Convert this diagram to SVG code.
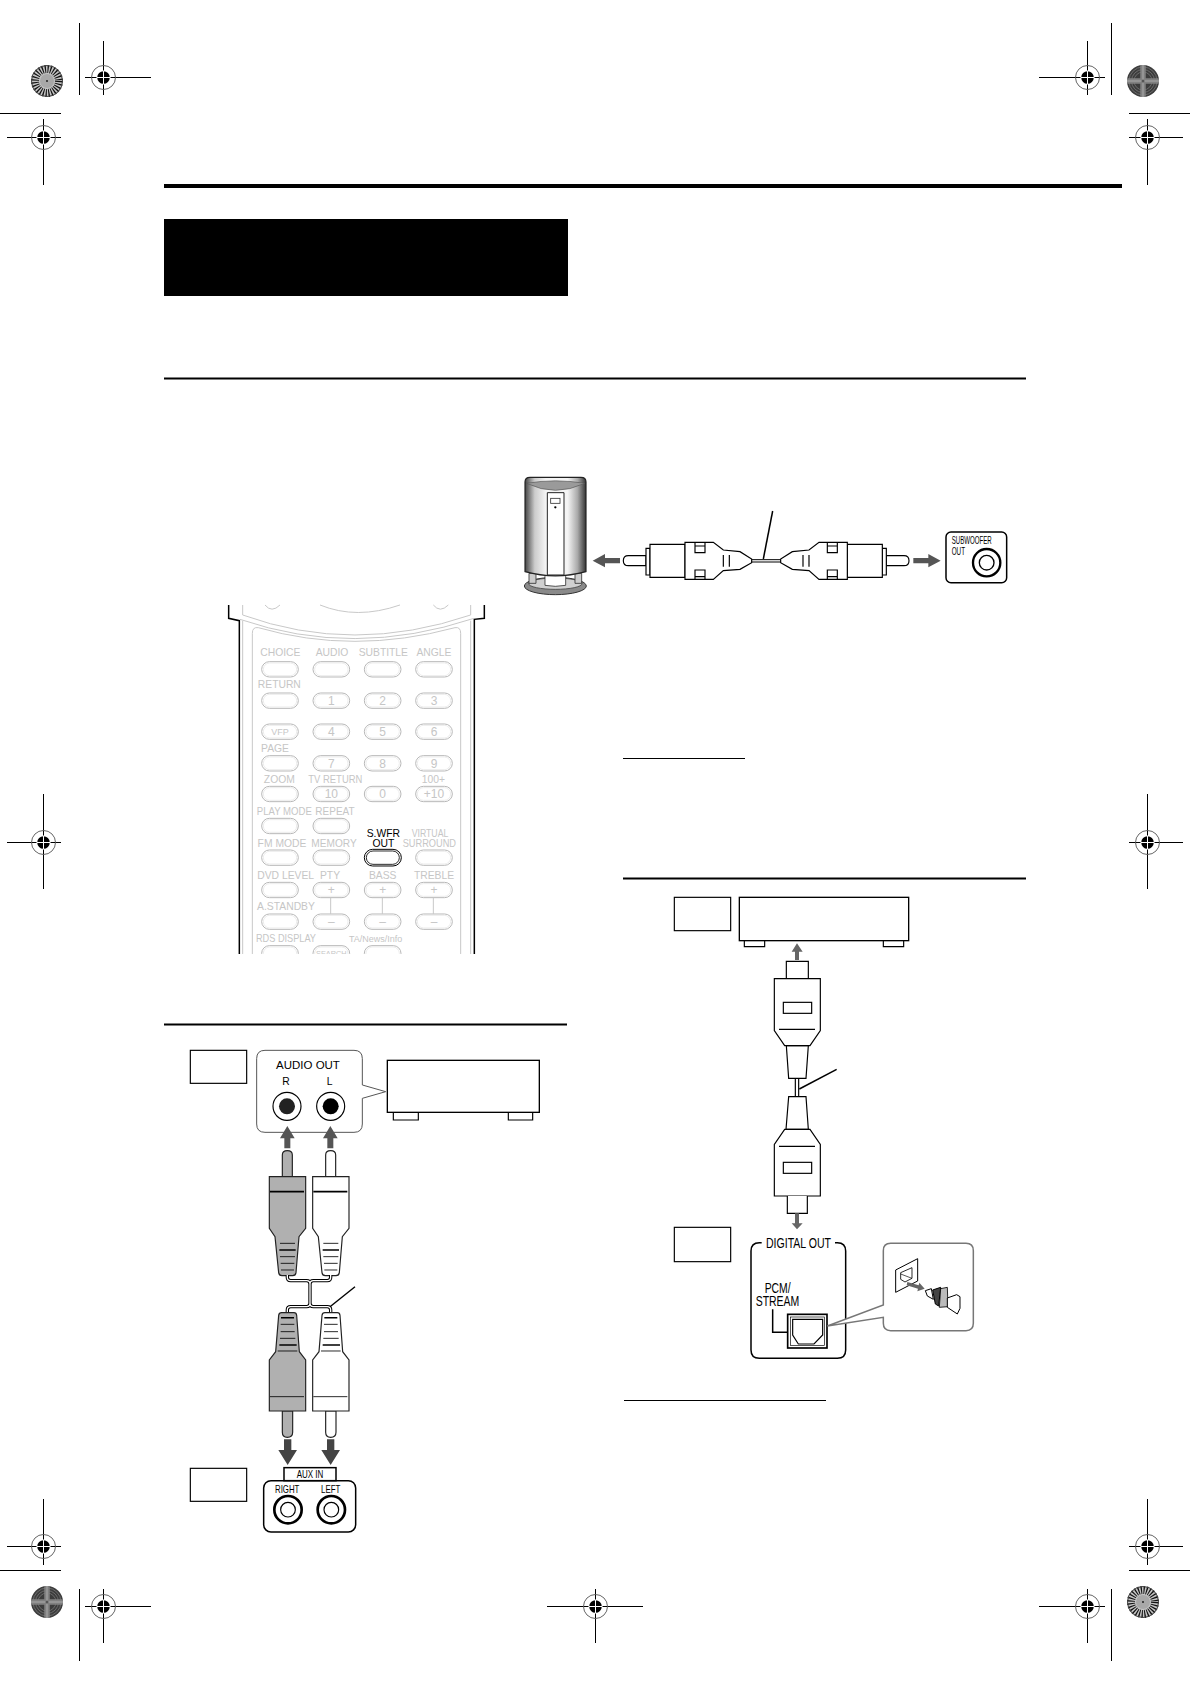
<svg xmlns="http://www.w3.org/2000/svg" width="1190" height="1684" viewBox="0 0 1190 1684">
<style>
text{font-family:"Liberation Sans",Arial,sans-serif}
.reg{stroke:#000;stroke-width:1;fill:none}
.k{fill:none;stroke:#000;stroke-width:3.5}
.kf{fill:#fff;stroke:#000;stroke-width:3.5}
.th{fill:#fff;stroke:#000;stroke-width:4.5}
.ar{fill:#555;stroke:none}
.g{fill:#c6c6c6;font-size:30px;text-anchor:middle}
.n{font-size:36px}
.b{fill:#fff;stroke:#b8b8b8;stroke-width:3}
.bi{fill:none;stroke:#e2e2e2;stroke-width:2}
.gl{fill:none;stroke:#c8c8c8;stroke-width:3}
.t{fill:#000;text-anchor:middle}
.w1{fill:none;stroke:#000;stroke-width:10}
.w2{fill:none;stroke:#fff;stroke-width:4}
</style>
<defs>
<g id="reg">
<circle r="12" fill="none" stroke="#666" stroke-width="1"/>
<circle r="6.3" fill="#000"/>
<path d="M-7 0H7M0-7V7" stroke="#fff" stroke-width="1"/>
</g>
<g id="sunL">
<circle r="16" fill="#c4c4c4"/>
<circle r="12" fill="none" stroke="#111" stroke-width="8" stroke-dasharray="1.2 1.5"/>
<circle r="15.5" fill="none" stroke="#444" stroke-width="1"/>
<circle r="7" fill="#a8a8a8"/>
<circle r="1" fill="#222"/>
</g>
<g id="sunD">
<circle r="16" fill="#3c3c3c"/>
<circle r="14" fill="none" stroke="#777" stroke-width=".8"/>
<circle r="11.500" fill="none" stroke="#777" stroke-width=".8"/>
<circle r="9" fill="none" stroke="#777" stroke-width=".8"/>
<path d="M-16 0H16M0-16V16" stroke="#808080" stroke-width="5.500"/>
<path d="M-16 0H16M0-16V16" stroke="#aaa" stroke-width="1"/>
<circle r="1.500" fill="#555"/>
</g>
<g id="btn">
<rect x="-55" y="-23" width="110" height="46" rx="23" class="b"/>
<rect x="-50" y="-19" width="100" height="38" rx="19" class="bi"/>
</g>
<g id="coax">
<path class="kf" d="M408 287H355Q340 287 340 302Q340 317 355 317H408Z"/>
<path class="kf" d="M408 265H420V345H408Z"/>
<path class="kf" d="M420 253H525V352H420Z"/>
<path class="kf" d="M525 247H610L640 270L690 275L725 297V308L690 328L640 332L610 358H525Z"/>
<path class="k" d="M555 258H585V278H555ZM555 330H585V350H555ZM555 247V258M585 247V258M555 350V358M585 350V358M640 285V320M658 285V320"/>
</g>
<g id="plugU">
<path stroke="#222" stroke-width="3.5" d="M307 410V345Q307 332 322 332Q337 332 337 345V410Z"/>
<path stroke="#222" stroke-width="3.5" d="M268 410H377V565L357 590L348 698Q347 707 338 707H306Q297 707 296 698L285 590L268 565Z"/>
<path d="M270 455H372" stroke="#000" stroke-width="5"/>
<path d="M300 610H345M300 650H345M302 670H343M303 690H342" stroke="#000" stroke-width="2.5"/>
<path d="M298 630H347" stroke="#000" stroke-width="4.5"/>
</g>
<g id="plugD">
<path stroke="#222" stroke-width="3.5" d="M307 393V457Q307 472 322 472Q338 472 338 457V393Z"/>
<path stroke="#222" stroke-width="3.5" d="M305 98H342Q349 98 350 106L358 215L377 240V393H268V240L287 215L296 106Q297 98 305 98Z"/>
<path d="M270 350H372" stroke="#000" stroke-width="2.5"/>
<path d="M302 133H343M302 155H344M300 175H346M293 213H352" stroke="#000" stroke-width="2.5"/>
<path d="M303 113H342M298 195H350" stroke="#000" stroke-width="4.5"/>
</g>
<linearGradient id="spk" x1="0" x2="1" y1="0" y2="0">
<stop offset="0" stop-color="#444"/><stop offset=".16" stop-color="#ccc"/><stop offset=".34" stop-color="#f4f4f4"/><stop offset=".7" stop-color="#f4f4f4"/><stop offset=".86" stop-color="#aaa"/><stop offset="1" stop-color="#333"/>
</linearGradient>
<clipPath id="rc"><rect x="0" y="0" width="840" height="1092"/></clipPath>
</defs>

<g id="printer-marks">
<path class="reg" d="M85 77.5H151M103.5 41V95M79.5 23V95M0 113.5H61M7 137.5H61M43.5 119V185"/>
<path class="reg" d="M1039 77.5H1105M1087.5 41V95M1111.5 23V95M1129 113.5H1190M1129 137.5H1183M1147.5 119V185"/>
<path class="reg" d="M7 1546.5H61M43.5 1499V1565M0 1570.5H61M79.5 1589V1661M85 1606.5H151M103.5 1589V1643"/>
<path class="reg" d="M1129 1546.5H1183M1147.5 1499V1565M1129 1570.5H1190M1111.5 1589V1661M1039 1606.5H1105M1087.5 1589V1643"/>
<path class="reg" d="M547 1606.5H643M595.5 1589V1643"/>
<path class="reg" d="M7 842.5H61M43.5 794V889M1129 842.5H1183M1147.5 794V889"/>
<use href="#reg" x="103.5" y="77.5"/><use href="#reg" x="43.5" y="137.5"/>
<use href="#reg" x="1087.5" y="77.5"/><use href="#reg" x="1147.5" y="137.5"/>
<use href="#reg" x="43.5" y="1546.5"/><use href="#reg" x="103.5" y="1606.5"/>
<use href="#reg" x="1147.5" y="1546.5"/><use href="#reg" x="1087.5" y="1606.5"/>
<use href="#reg" x="595.5" y="1606.5"/>
<use href="#reg" x="43.5" y="842.5"/><use href="#reg" x="1147.5" y="842.5"/>
<use href="#sunL" x="47" y="81"/><use href="#sunD" x="1143" y="81"/>
<use href="#sunD" x="47" y="1602"/><use href="#sunL" x="1143" y="1602"/>
</g>

<g id="page-rules">
<rect x="164" y="184" width="958" height="4" fill="#000"/>
<rect x="164" y="219" width="404" height="77" fill="#000"/>
<path d="M164 378.5H1026M623 878.5H1026M164 1024.5H567" stroke="#000" stroke-width="1.8" fill="none"/>
<path d="M623 758.5H745M624 1400.5H826" stroke="#000" stroke-width="1" fill="none"/>
</g>

<g id="subwoofer-connection" transform="translate(510 460) scale(.33333)">
<g id="speaker">
<ellipse cx="136" cy="378" rx="93" ry="26" fill="#8a8a8a" stroke="#333" stroke-width="3"/>
<ellipse cx="136" cy="371" rx="80" ry="17" fill="#d0d0d0" stroke="#444" stroke-width="2.5"/>
<path d="M57 340H78V370H57ZM195 340H215V370H195Z" fill="#ccc" stroke="#333" stroke-width="2.5"/>
<path d="M105 345H167V376Q136 382 105 376Z" fill="#fff" stroke="#333" stroke-width="2.5"/>
<path d="M45 66Q45 52 60 52H213Q228 52 228 66V335Q136 360 45 335Z" fill="url(#spk)" stroke="#222" stroke-width="3.5"/>
<path d="M50 70Q136 55 224 70Q136 112 50 70Z" fill="#9a9a9a" stroke="#555" stroke-width="2"/>
<path d="M112 98H162V345H112Z" fill="#fff" stroke="#222" stroke-width="3"/>
<rect x="122" y="115" width="28" height="15" fill="#fff" stroke="#333" stroke-width="2.5"/>
<circle cx="136" cy="142" r="3.5" fill="#000"/>
</g>
<path class="ar" d="M248 302L285 282V294H330V310H285V322Z"/>
<path d="M725 302.500H815" class="w1"/>
<path d="M725 302.500H815" class="w2"/>
<use href="#coax"/>
<use href="#coax" transform="translate(1537 0) scale(-1 1)"/>
<path d="M788 153L760 297" stroke="#000" stroke-width="4.500" fill="none"/>
<path class="ar" d="M1292 302L1255 282V294H1210V310H1255V322Z"/>
<g id="subwoofer-out">
<rect x="1308" y="216" width="182" height="152" rx="15" class="th"/>
<text x="1325" y="252" font-size="32" textLength="120" lengthAdjust="spacingAndGlyphs">SUBWOOFER</text>
<text x="1325" y="284" font-size="32" textLength="40" lengthAdjust="spacingAndGlyphs">OUT</text>
<circle cx="1430" cy="308" r="41" fill="#fff" stroke="#000" stroke-width="7"/>
<circle cx="1430" cy="308" r="22" fill="#fff" stroke="#000" stroke-width="4"/>
</g>
</g>

<g id="remote" transform="translate(220 590) scale(.33333)">
<g clip-path="url(#rc)">
<path d="M26 45V85L58 92V1092M793 45V85L763 88V1092" fill="none" stroke="#000" stroke-width="4.500"/>
<path d="M68 92V1092M752 92V1092" class="gl"/>
<path d="M68 45V75Q400 195 752 75V45M60 88Q400 205 762 85" class="gl"/>
<path d="M97 1092V130Q97 110 115 113Q400 195 705 113Q722 110 722 130V1092" class="gl"/>
<path d="M135 45Q155 70 180 45M640 45Q660 70 685 45M300 45Q410 90 540 45" class="gl"/>
<g id="remote-buttons">
<use href="#btn" x="180" y="238"/><use href="#btn" x="334" y="238"/><use href="#btn" x="488" y="238"/><use href="#btn" x="642" y="238"/>
<use href="#btn" x="180" y="332"/><use href="#btn" x="334" y="332"/><use href="#btn" x="488" y="332"/><use href="#btn" x="642" y="332"/>
<use href="#btn" x="180" y="425"/><use href="#btn" x="334" y="425"/><use href="#btn" x="488" y="425"/><use href="#btn" x="642" y="425"/>
<use href="#btn" x="180" y="520"/><use href="#btn" x="334" y="520"/><use href="#btn" x="488" y="520"/><use href="#btn" x="642" y="520"/>
<use href="#btn" x="180" y="612"/><use href="#btn" x="334" y="612"/><use href="#btn" x="488" y="612"/><use href="#btn" x="642" y="612"/>
<use href="#btn" x="180" y="708"/><use href="#btn" x="334" y="708"/>
<use href="#btn" x="180" y="803"/><use href="#btn" x="334" y="803"/><use href="#btn" x="642" y="803"/>
<use href="#btn" x="180" y="900"/><use href="#btn" x="334" y="900"/><use href="#btn" x="488" y="900"/><use href="#btn" x="642" y="900"/>
<use href="#btn" x="180" y="995"/><use href="#btn" x="334" y="995"/><use href="#btn" x="488" y="995"/><use href="#btn" x="642" y="995"/>
<use href="#btn" x="180" y="1090"/><use href="#btn" x="334" y="1090"/><use href="#btn" x="488" y="1090"/>
<path d="M332 923V972M487 923V972M640 923V972" class="gl"/>
</g>
<g id="swfr-button">
<rect x="433" y="778" width="111" height="50" rx="25" fill="#fff" stroke="#000" stroke-width="3"/>
<rect x="439" y="783" width="99" height="40" rx="20" fill="#fff" stroke="#000" stroke-width="2.500"/>
<text class="t" x="490" y="740" font-size="31">S.WFR</text>
<text class="t" x="490" y="770" font-size="31">OUT</text>
</g>
<text class="g" x="181" y="198" style="font-size:31px">CHOICE</text><text class="g" x="336" y="198" style="font-size:31px">AUDIO</text><text class="g" x="490" y="198" style="font-size:31px">SUBTITLE</text><text class="g" x="642" y="198" style="font-size:31px">ANGLE</text>
<text class="g" x="178" y="293" style="font-size:31px">RETURN</text>
<text class="g n" x="334" y="345">1</text><text class="g n" x="488" y="345">2</text><text class="g n" x="642" y="345">3</text>
<text class="g" x="180" y="435" style="font-size:27px">VFP</text><text class="g n" x="334" y="438">4</text><text class="g n" x="488" y="438">5</text><text class="g n" x="642" y="438">6</text>
<text class="g" x="165" y="486" style="font-size:31px">PAGE</text>
<text class="g n" x="334" y="533">7</text><text class="g n" x="488" y="533">8</text><text class="g n" x="642" y="533">9</text>
<text class="g" x="178" y="579" style="font-size:31px">ZOOM</text><text class="g" x="346" y="579" textLength="162" lengthAdjust="spacingAndGlyphs" style="font-size:31px">TV RETURN</text><text class="g" x="640" y="579" style="font-size:31px">100+</text>
<text class="g n" x="334" y="625">10</text><text class="g n" x="488" y="625">0</text><text class="g n" x="642" y="625">+10</text>
<text class="g" x="193" y="675" textLength="165" lengthAdjust="spacingAndGlyphs" style="font-size:31px">PLAY MODE</text><text class="g" x="345" y="675" style="font-size:31px" textLength="118" lengthAdjust="spacingAndGlyphs">REPEAT</text>
<text class="g" x="186" y="771" style="font-size:31px">FM MODE</text><text class="g" x="342" y="771" textLength="136" lengthAdjust="spacingAndGlyphs" style="font-size:31px">MEMORY</text>
<text class="g" x="630" y="740" textLength="110" lengthAdjust="spacingAndGlyphs" style="font-size:31px">VIRTUAL</text><text class="g" x="628" y="770" textLength="160" lengthAdjust="spacingAndGlyphs" style="font-size:31px">SURROUND</text>
<text class="g" x="197" y="866" style="font-size:31px">DVD LEVEL</text><text class="g" x="330" y="866" style="font-size:31px">PTY</text><text class="g" x="488" y="866" style="font-size:31px">BASS</text><text class="g" x="642" y="866" style="font-size:31px">TREBLE</text>
<text class="g n" x="334" y="913">+</text><text class="g n" x="488" y="913">+</text><text class="g n" x="642" y="913">+</text>
<text class="g" x="198" y="961" style="font-size:31px">A.STANDBY</text>
<text class="g n" x="334" y="1008">–</text><text class="g n" x="488" y="1008">–</text><text class="g n" x="642" y="1008">–</text>
<text class="g" x="198" y="1055" textLength="180" lengthAdjust="spacingAndGlyphs" style="font-size:31px">RDS DISPLAY</text><text class="g" x="467" y="1055" style="font-size:27px">TA/News/Info</text>
<text class="g" x="334" y="1098" style="font-size:22px">SEARCH</text>
</g>
</g>

<g id="aux-connection" transform="translate(180 1040) scale(.33333)">
<rect x="31" y="31" width="169" height="99" fill="#fff" stroke="#000" stroke-width="3.500"/>
<g id="audio-out-callout">
<path d="M255 31H522Q547 31 547 56V135L617 155L547 175V252Q547 277 522 277H255Q230 277 230 252V56Q230 31 255 31Z" fill="#fff" stroke="#555" stroke-width="3"/>
<text class="t" x="384" y="88" font-size="34.500">AUDIO OUT</text>
<text class="t" x="318" y="134" font-size="31">R</text>
<text class="t" x="449" y="134" font-size="31">L</text>
<circle cx="321" cy="199" r="42" fill="#fff" stroke="#000" stroke-width="3.500"/>
<circle cx="321" cy="199" r="24" fill="#222"/>
<circle cx="452" cy="199" r="42" fill="#fff" stroke="#000" stroke-width="3.500"/>
<circle cx="452" cy="199" r="24" fill="#000"/>
</g>
<g id="player-unit">
<rect x="622" y="61" width="456" height="156" fill="#fff" stroke="#000" stroke-width="4"/>
<path d="M640 217V240H715V217M985 217V240H1058V217" fill="none" stroke="#000" stroke-width="3.500"/>
</g>
<path class="ar" d="M322 258L344 295H331V325H313V295H300Z"/>
<path class="ar" d="M451 258L473 295H460V325H442V295H429Z"/>
<use href="#plugU" fill="#b0b0b0"/>
<use href="#plugU" x="130" fill="#fff"/>
<path class="w1" d="M322 705V712Q322 722 332 722H380Q390 722 390 732V790Q390 800 380 800H332Q322 800 322 810V818M452 705V712Q452 722 442 722H400Q390 722 390 732V790Q390 800 400 800H442Q452 800 452 810V818"/>
<path class="w2" d="M322 705V712Q322 722 332 722H380Q390 722 390 732V790Q390 800 380 800H332Q322 800 322 810V818M452 705V712Q452 722 442 722H400Q390 722 390 732V790Q390 800 400 800H442Q452 800 452 810V818"/>
<g transform="translate(0 720)">
<use href="#plugD" fill="#b0b0b0"/>
<use href="#plugD" x="130" fill="#fff"/>
<path d="M525 20L450 80" stroke="#000" stroke-width="4" fill="none"/>
<path d="M312 478H334V510H351L323 555L295 510H312Z" fill="#444"/>
<path d="M441 478H463V510H480L452 555L424 510H441Z" fill="#444"/>
<rect x="31" y="565" width="169" height="99" fill="#fff" stroke="#000" stroke-width="3.500"/>
<g id="aux-in-panel">
<rect x="251" y="602" width="276" height="154" rx="22" class="th"/>
<rect x="312" y="563" width="156" height="39" class="th"/>
<text x="350" y="594" font-size="31" textLength="80" lengthAdjust="spacingAndGlyphs">AUX IN</text>
<text x="285" y="638" font-size="34" textLength="73" lengthAdjust="spacingAndGlyphs">RIGHT</text>
<text x="423" y="638" font-size="34" textLength="58" lengthAdjust="spacingAndGlyphs">LEFT</text>
<circle cx="324" cy="689" r="41" fill="#fff" stroke="#000" stroke-width="8"/>
<circle cx="324" cy="689" r="22" fill="#fff" stroke="#000" stroke-width="3.500"/>
<circle cx="454" cy="689" r="41" fill="#fff" stroke="#000" stroke-width="8"/>
<circle cx="454" cy="689" r="22" fill="#fff" stroke="#000" stroke-width="3.500"/>
</g>
</g>
</g>

<g id="digital-connection" transform="translate(670 890) scale(.33333)">
<rect x="13" y="22" width="169" height="100" fill="#fff" stroke="#000" stroke-width="3.500"/>
<g id="digital-unit">
<rect x="208" y="22" width="508" height="130" fill="#fff" stroke="#000" stroke-width="4"/>
<path d="M223 152V170H284V152M640 152V170H701V152" fill="none" stroke="#000" stroke-width="3.500"/>
</g>
<path d="M381 160L398 185H387V210H375V185H365Z" fill="#666"/>
<g id="optical-top">
<path class="kf" d="M349 266V214H415V266"/>
<path class="kf" stroke-width="4" d="M349 467H415L408 565H356Z"/>
<path class="kf" stroke-width="4" d="M313 266H451V422L420 467H344L313 422Z"/>
<rect x="340" y="337" width="85" height="33" class="kf"/>
<path class="k" d="M327 418H435"/>
</g>
<path d="M376 565V620M386 565V620" class="k"/>
<path d="M388 597L500 538" stroke="#000" stroke-width="4.500" fill="none"/>
<g id="optical-bottom">
<path class="kf" d="M356 620H408L415 718H348Z"/>
<path class="kf" d="M344 718H420L451 763V918H313V763Z"/>
<path class="k" d="M327 769H435"/>
<rect x="340" y="817" width="85" height="33" class="kf"/>
<path class="kf" d="M352 918V970H412V918"/>
</g>
<g transform="translate(0 930)">
<path d="M375 40H387V70H398L381 88L365 70H375Z" fill="#666"/>
<rect x="13" y="82" width="169" height="103" fill="#fff" stroke="#000" stroke-width="3.500"/>
<g id="digital-out-panel">
<path d="M275 128H268Q243 128 243 153V450Q243 475 268 475H502Q527 475 527 450V153Q527 128 502 128H495" fill="none" stroke="#000" stroke-width="4.500"/>
<text x="288" y="143" font-size="46" textLength="195" lengthAdjust="spacingAndGlyphs">DIGITAL OUT</text>
<text x="284" y="278" font-size="42" textLength="78" lengthAdjust="spacingAndGlyphs">PCM/</text>
<text x="257" y="317" font-size="42" textLength="131" lengthAdjust="spacingAndGlyphs">STREAM</text>
<path d="M308 328V397H355" fill="none" stroke="#000" stroke-width="4.500"/>
<rect x="353" y="343" width="118" height="101" fill="#fff" stroke="#000" stroke-width="5"/>
<rect x="361" y="351" width="102" height="85" fill="#fff" stroke="#000" stroke-width="2"/>
<path d="M368 358H458V405L432 432H385L368 405Z" fill="#fff" stroke="#000" stroke-width="3.500"/>
</g>
<g id="detail-callout">
<path d="M640 315V152Q640 130 662 130H888Q910 130 910 152V370Q910 392 888 392H662Q640 392 640 370V352L472 378Z" fill="#fff" stroke="#777" stroke-width="4.500"/>
<path d="M677 210L743 176V243L677 277Z" fill="#fff" stroke="#000" stroke-width="3"/>
<path d="M692 218L726 203V235L705 246L692 238Z" fill="#fff" stroke="#000" stroke-width="2.500"/>
<path d="M692 222L726 235" stroke="#000" stroke-width="2"/>
<path d="M712 246L746 256L748 248L764 266L742 274L744 266L710 256Z" fill="#666"/>
<path d="M766 272L784 266L790 298L772 288Z" fill="#fff" stroke="#000" stroke-width="3"/>
<path d="M788 270L812 262L806 318L796 312Z" fill="#444" stroke="#000" stroke-width="3"/>
<path d="M812 266L832 262L834 320L808 322Z" fill="#bbb" stroke="#000" stroke-width="2.500"/>
<path d="M832 294L860 284L870 290V325L862 342L832 322Z" fill="#fff" stroke="#000" stroke-width="3"/>
</g>
</g>
</g>
</svg>
